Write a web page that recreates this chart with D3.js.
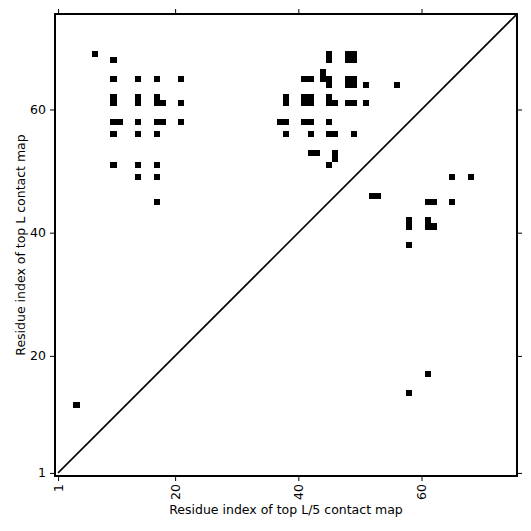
<!DOCTYPE html>
<html>
<head>
<meta charset="utf-8">
<script src="https://cdn.jsdelivr.net/npm/d3@7"></script>
<style>
  html, body { margin: 0; padding: 0; background: #fff; }
  text { font-family: "DejaVu Sans", sans-serif; }
</style>
</head>
<body>
<div id="chart"></div>
<script>
// residue range of the map
const residueRange = [0.5, 75.5];
const xTicks = [1, 20, 40, 60];
const yTicks = [1, 20, 40, 60];
const xLabel = 'Residue index of top L/5 contact map';
const yLabel = 'Residue index of top L contact map';

// upper-left triangle: top L contacts [i, j]
const topLContacts = [
  [4, 12],
  [7, 69], [10, 68],
  [10, 65], [14, 65], [17, 65], [21, 65],
  [10, 62], [14, 62], [17, 62],
  [10, 61], [14, 61], [17, 61], [18, 61], [21, 61],
  [10, 58], [11, 58], [14, 58], [17, 58], [18, 58], [21, 58],
  [10, 56], [14, 56], [17, 56],
  [10, 51], [14, 51], [17, 51],
  [14, 49], [17, 49],
  [17, 45],
  [45, 69], [45, 68], [48, 69], [49, 69], [48, 68], [49, 68],
  [44, 66], [41, 65], [42, 65], [44, 65], [45, 65], [48, 65], [49, 65],
  [45, 64], [48, 64], [49, 64], [51, 64], [56, 64],
  [38, 62], [41, 62], [42, 62], [45, 62],
  [38, 61], [41, 61], [42, 61], [45, 61], [46, 61], [48, 61], [49, 61], [51, 61],
  [37, 58], [38, 58], [41, 58], [42, 58], [45, 58],
  [38, 56], [42, 56], [45, 56], [46, 56], [49, 56],
  [42, 53], [43, 53], [46, 53], [46, 52], [45, 51]
];

// lower-right triangle: top L/5 contacts [i, j]
const topL5Contacts = [
  [65, 49], [68, 49],
  [52, 46], [53, 46],
  [61, 45], [62, 45], [65, 45],
  [58, 42], [61, 42],
  [58, 41], [61, 41], [62, 41],
  [58, 38],
  [61, 17], [58, 14]
];

const width = 531;
const height = 531;
const margin = { top: 14, right: 14, bottom: 55, left: 55 };
const plotW = width - margin.left - margin.right;
const plotH = height - margin.top - margin.bottom;

const x = d3.scaleLinear().domain(residueRange).range([0, plotW]);
const y = d3.scaleLinear().domain(residueRange).range([plotH, 0]);

const svg = d3.select('#chart')
  .append('svg')
  .attr('width', width)
  .attr('height', height);

const g = svg.append('g')
  .attr('transform', `translate(${margin.left}, ${margin.top})`);

g.append('clipPath')
  .attr('id', 'plot-clip')
  .append('rect')
  .attr('width', plotW)
  .attr('height', plotH);

const cells = g.append('g').attr('clip-path', 'url(#plot-clip)');

// one unit square per contact
const drawCells = data => {
  cells.selectAll(null)
    .data(data)
    .enter()
    .append('rect')
    .attr('x', d => x(d[0] - 0.5))
    .attr('y', d => y(d[1] + 0.5))
    .attr('width', x(1.5) - x(0.5))
    .attr('height', y(0.5) - y(1.5))
    .attr('fill', '#000')
    .attr('shape-rendering', 'crispEdges');
};
drawCells(topLContacts);
drawCells(topL5Contacts);

// diagonal
cells.append('line')
  .attr('x1', x(1))
  .attr('y1', y(1))
  .attr('x2', x(76))
  .attr('y2', y(76))
  .attr('stroke', '#000')
  .attr('stroke-width', 1.6);

const styleAxis = (axisG, showText) => {
  axisG.select('.domain').remove();
  axisG.selectAll('line').attr('stroke', '#000').attr('stroke-width', 1);
  axisG.selectAll('text')
    .style('font-size', '12.5px')
    .attr('fill', '#000');
  if (!showText) axisG.selectAll('text').remove();
};

const xG = g.append('g')
  .attr('transform', `translate(0, ${plotH})`)
  .call(d3.axisBottom(x).tickValues(xTicks).tickSize(5).tickPadding(3));
styleAxis(xG, true);
// vertical tick labels, reading bottom to top
xG.selectAll('text')
  .attr('y', 0)
  .attr('x', 0)
  .attr('dy', '0.35em')
  .attr('transform', 'translate(0, 8) rotate(-90)')
  .style('text-anchor', 'end');

styleAxis(g.append('g').call(d3.axisTop(x).tickValues(xTicks).tickSize(5)), false);

const yG = g.append('g')
  .call(d3.axisLeft(y).tickValues(yTicks).tickSize(5).tickPadding(4));
styleAxis(yG, true);

styleAxis(g.append('g')
  .attr('transform', `translate(${plotW}, 0)`)
  .call(d3.axisRight(y).tickValues(yTicks).tickSize(5)), false);

// frame
g.append('rect')
  .attr('width', plotW)
  .attr('height', plotH)
  .attr('fill', 'none')
  .attr('stroke', '#000')
  .attr('stroke-width', 2);

svg.append('text')
  .attr('x', margin.left + plotW / 2)
  .attr('y', 514)
  .style('text-anchor', 'middle')
  .style('font-size', '12.5px')
  .text(xLabel);

svg.append('text')
  .attr('transform', `translate(25, ${margin.top + plotH / 2}) rotate(-90)`)
  .style('text-anchor', 'middle')
  .style('font-size', '12.5px')
  .text(yLabel);
</script>
</body>
</html>
